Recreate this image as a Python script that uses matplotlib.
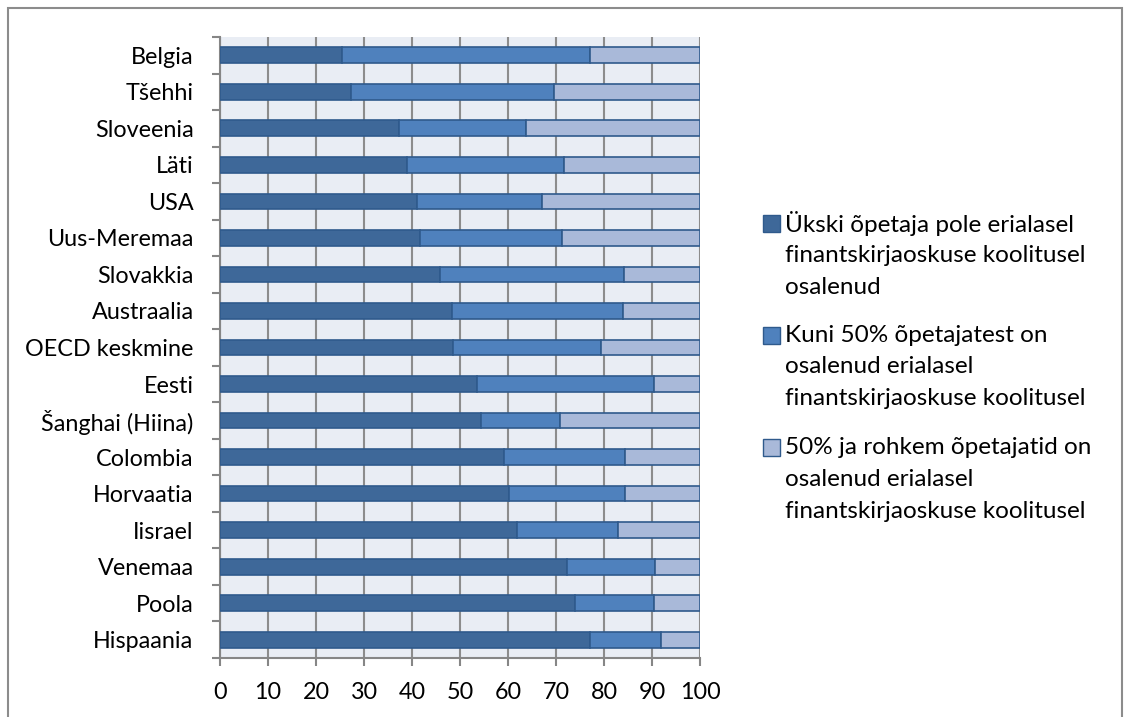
import matplotlib
matplotlib.use("Agg")
import matplotlib.pyplot as plt
from matplotlib.patches import Rectangle
import numpy as np

plt.rcParams['font.family'] = ['Lato', 'DejaVu Sans']

countries = ["Belgia", "Tšehhi", "Sloveenia", "Läti", "USA", "Uus-Meremaa",
             "Slovakkia", "Austraalia", "OECD keskmine", "Eesti", "Šanghai (Hiina)",
             "Colombia", "Horvaatia", "Iisrael", "Venemaa", "Poola", "Hispaania"]
none_pct = [25.5, 27.3, 37.2, 38.9, 41.0, 41.7, 45.8, 48.4, 48.5, 53.6, 54.3,
            59.2, 60.3, 61.9, 72.2, 74.0, 77.1]
upto50_pct = [51.6, 42.3, 26.5, 32.8, 26.0, 29.5, 38.3, 35.6, 30.8, 36.9, 16.5,
              25.2, 24.1, 21.1, 18.4, 16.5, 14.7]
over50_pct = [100 - a - b for a, b in zip(none_pct, upto50_pct)]
series_labels = ["Ükski õpetaja pole erialasel\nfinantskirjaoskuse koolitusel\nosalenud",
                 "Kuni 50% õpetajatest on\nosalenud erialasel\nfinantskirjaoskuse koolitusel",
                 "50% ja rohkem õpetajatid on\nosalenud erialasel\nfinantskirjaoskuse koolitusel"]
colors = ["#3E6899", "#4F81BD", "#A9B9D9"]
x_ticks = list(range(0, 101, 10))

W, H = 1125, 717
fig = plt.figure(figsize=(W / 100, H / 100), dpi=100)
ax = fig.add_axes([220/W, 1-658/H, 480/W, 621/H])
ax.set_facecolor("#E9EDF4")

n = len(countries)
y = np.arange(n)[::-1]
left = np.zeros(n)
for vals, col, lab in zip([none_pct, upto50_pct, over50_pct], colors, series_labels):
    ax.barh(y, vals, left=left, height=0.43, color=col, edgecolor="#2F5A8C",
            linewidth=1.2, label=lab, zorder=3)
    left = left + np.array(vals)

ax.set_xlim(0, 100)
ax.set_ylim(-0.5, n - 0.5)
ax.set_xticks(x_ticks)
ax.set_xticklabels([str(t) for t in x_ticks], fontsize=16.8)
ax.set_yticks(y)
ax.set_yticklabels(countries, fontsize=16.8)
ax.set_yticks(np.arange(-0.5, n, 1.0), minor=True)
ax.tick_params(axis='y', which='major', length=0, pad=19)
ax.tick_params(axis='y', which='minor', length=6, color="#868686", width=1.5, direction='out')
ax.tick_params(axis='x', which='major', length=6, color="#868686", width=1.5, direction='out', pad=11)
ax.xaxis.grid(True, color="#8C8C8C", linewidth=1.5, zorder=0)
ax.set_axisbelow(True)
for s in ["top", "right"]:
    ax.spines[s].set_visible(False)
for s in ["left", "bottom"]:
    ax.spines[s].set_color("#868686")
    ax.spines[s].set_linewidth(1.5)

# Manual legend: square aligned with the first line of each entry
item_tops = [223, 335, 447]
line_step = 32
for lab, col, yc in zip(series_labels, colors, item_tops):
    sq = 17
    fig.patches.append(Rectangle((763/W, 1 - (yc + sq/2)/H), sq/W, sq/H,
                                 transform=fig.transFigure, facecolor=col,
                                 edgecolor="#2F5A8C", linewidth=1.0))
    for k, line in enumerate(lab.split("\n")):
        fig.text(785/W, 1 - (yc + k*line_step)/H, line, fontsize=17.5,
                 ha="left", va="center", color="#000000")

fig.patches.append(Rectangle((8/W, -0.05), (1122-8)/W, 1.05 - 8/H,
                             transform=fig.transFigure, fill=False,
                             edgecolor="#8C8C8C", linewidth=1.5))

fig.savefig("out.png", dpi=100, facecolor="white")
